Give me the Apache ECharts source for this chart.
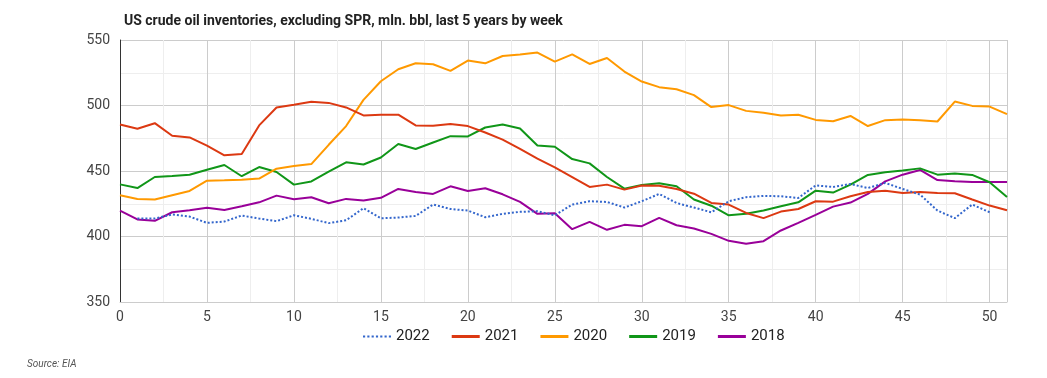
<!DOCTYPE html>
<html><head><meta charset="utf-8">
<script src="https://cdn.jsdelivr.net/npm/echarts@6/dist/echarts.min.js"></script>
<style>html,body{margin:0;padding:0;background:#fff;}#c{width:1047px;height:378px;}</style>
</head><body><div id="c"></div>
<script>
const weeks = Array.from({length: 52}, (_, i) => i);
const y2022 = [null,413.7,413.7,416.8,415.2,410.4,411.4,416,413.7,411.7,416.2,413.5,410.2,412.4,421.6,413.9,414.5,415.7,424.4,421,419.8,414.7,417.3,418.8,419.3,416.2,424.4,426.9,426.4,422.1,426.9,432.5,425.6,422.1,418.5,426.9,430,431,430.7,429.4,439,437.8,440.1,437,440.9,436.3,432,419.8,414,424.4,418.5];
const y2021 = [485.5,482.2,486.5,476.9,475.6,469.3,462,463,484.8,498.5,500.5,502.8,502,498.5,492.4,493,493,484.8,484.5,485.8,484.3,479.4,473.9,466.8,459.4,452.8,445.4,437.8,439.6,435.8,439,438.8,436.3,432.7,425.6,424.4,418,414,419,421,426.9,426.6,430.7,434,435,433.2,434,433.2,433,428.2,423.6,420];
const y2020 = [431.5,428.7,428.2,431.5,434.8,442.6,442.9,443.4,444.2,451.8,453.8,455.3,470,484.3,504.3,518.5,527.7,532.2,531.5,526.4,534.3,532.2,537.8,539,540.4,533.5,539,531.7,536.3,525.9,518.3,514,512.4,507.9,498.8,500.3,495.9,494.4,492.4,492.9,489,488,492,484.3,488.8,489.3,488.8,487.8,503,499.7,499.2,493.4];
const y2019 = [439.8,437,445.4,446.2,447.2,451,454.6,446,453,449.2,439.6,442,449.5,456.6,455,460.3,470.6,466.8,471.8,476.6,476.4,483.2,485.5,482.5,469.5,468.5,459.1,455.8,445.4,436.5,439.3,440.6,438.3,428.2,423.5,416.2,417.3,419.8,423.1,426.1,435,433.5,439.6,447,449,450.3,452,447.2,448,447,441.4,430.2];
const y2018 = [419.8,413,412,418.5,420,422,420.3,423.1,426.1,431.2,428.4,430,425.4,428.7,427.4,429.5,436.3,434,432.5,438.3,434.8,436.8,432.2,426.4,417.3,417.8,405.6,411.2,405.1,408.9,407.9,414.2,408.6,406.1,402,396.7,394.4,396.4,404.6,410.4,416.5,422.8,425.9,432.5,442.1,447.2,450.8,443.1,442.1,441.6,441.6,441.6];
const seriesNames = ['2022','2021','2020','2019','2018'];
const seriesData = [y2022, y2021, y2020, y2019, y2018];
const colors = ['#3366cc','#dc3912','#ff9900','#109618','#990099'];

const chart = echarts.init(document.getElementById('c'), null, {renderer: 'canvas'});
const series = seriesNames.map((name, k) => ({
  name, type: 'line', symbol: 'none', connectNulls: false,
  data: seriesData[k].map((v, i) => [weeks[i], v === null ? '-' : v]),
  lineStyle: {color: colors[k], width: 2, type: k === 0 ? [2, 2] : 'solid'},
  itemStyle: {color: colors[k]},
  z: 10 - k
}));
chart.setOption({
  animation: false,
  textStyle: {fontFamily: 'Roboto'},
  title: [{
    text: 'US crude oil inventories, excluding SPR, mln. bbl, last 5 years by week',
    left: 119, top: 9,
    textStyle: {fontFamily: 'Roboto', fontSize: 14, fontWeight: 'bold', color: '#222'}
  }, {
    text: 'Source: EIA', left: 22, top: 354,
    textStyle: {fontFamily: 'Roboto', fontSize: 10, fontStyle: 'italic', fontWeight: 'normal', color: '#555'}
  }],
  legend: {
    data: seriesNames.map((n, k) => ({name: n, icon: k === 0 ? 'path://M0,0h2v2h-2z M4,0h2v2h-2z M8,0h2v2h-2z M12,0h2v2h-2z M16,0h2v2h-2z M20,0h2v2h-2z M24,0h2v2h-2z' : 'rect'})),
    left: 358, top: 324, itemWidth: 28, itemHeight: 3, itemGap: 22,
    textStyle: {fontFamily: 'Roboto', fontSize: 15, color: '#222'}
  },
  grid: {left: 120, right: 40, top: 40, bottom: 76},
  xAxis: {
    type: 'value', min: 0, max: 51, interval: 5,
    axisLine: {show: true, lineStyle: {color: '#ccc'}},
    axisTick: {show: false},
    axisLabel: {color: '#444', fontSize: 14, margin: 8, showMaxLabel: false},
    splitLine: {show: true, lineStyle: {color: '#ccc'}},
    minorTick: {show: false, splitNumber: 2},
    minorSplitLine: {show: true, lineStyle: {color: '#eee'}}
  },
  yAxis: {
    type: 'value', min: 350, max: 550, interval: 50,
    axisLine: {show: true, lineStyle: {color: '#333'}},
    axisTick: {show: false},
    axisLabel: {color: '#444', fontSize: 14, margin: 10},
    splitLine: {show: true, lineStyle: {color: '#ccc'}},
    minorTick: {show: false, splitNumber: 2},
    minorSplitLine: {show: true, lineStyle: {color: '#eee'}}
  },
  series
});
</script></body></html>
